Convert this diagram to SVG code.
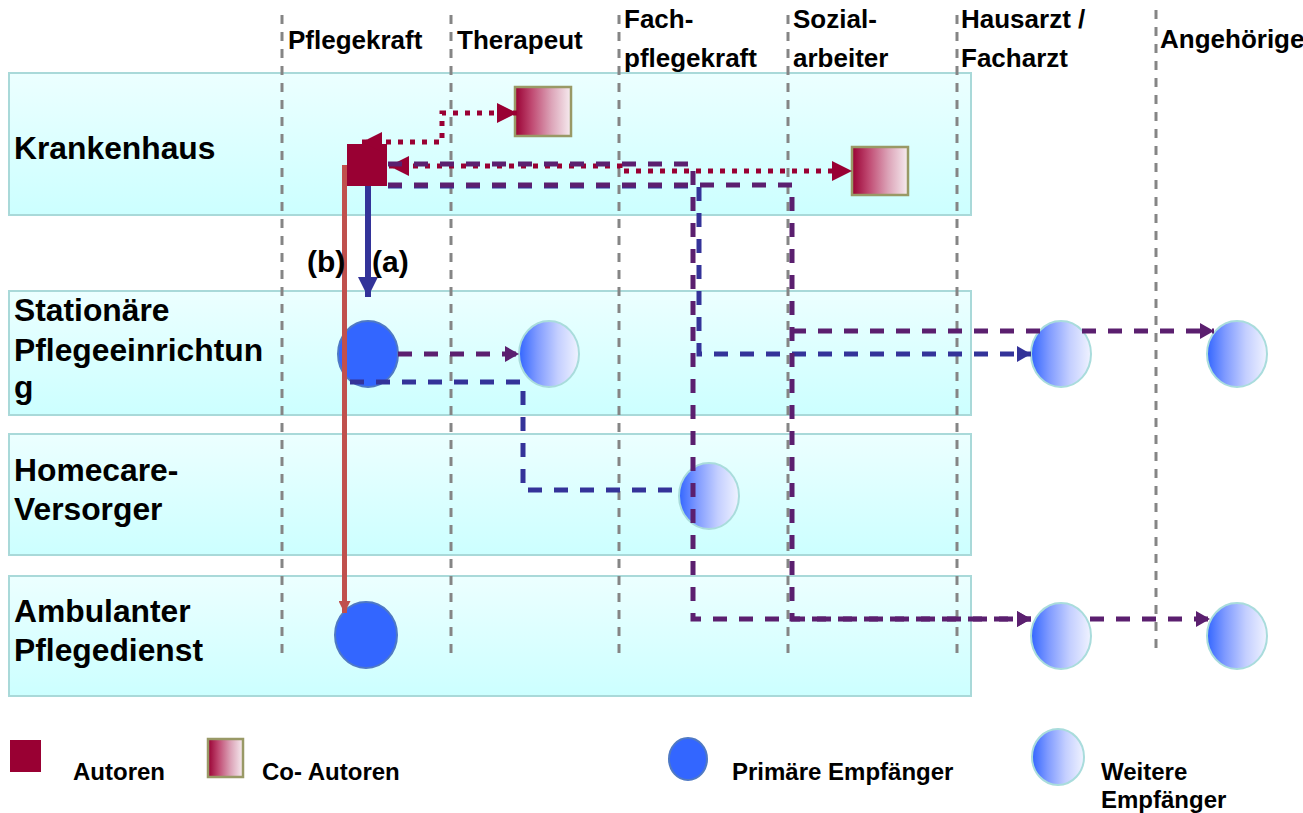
<svg xmlns="http://www.w3.org/2000/svg" width="1303" height="813" viewBox="0 0 1303 813">
<style>
text{font-family:"Liberation Sans",Arial,sans-serif;font-weight:bold;fill:#000}
.hdr{font-size:26px}
.lbl{font-size:31.8px}
.leg{font-size:24px}
.ab{font-size:30px}
.band{fill:url(#bandG);stroke:#a9d9d9;stroke-width:2}
.grid{stroke:#858585;stroke-width:3;stroke-dasharray:9 8;fill:none}
.author{fill:#990033}
.coauth{fill:url(#coG);stroke:#999966;stroke-width:2.5}
.prim{fill:#3366ff;stroke:#4f79c4;stroke-width:2}
.weit{fill:url(#weitG);stroke:#a9dcdc;stroke-width:2}
.dot{fill:none;stroke:#990033;stroke-width:5;stroke-dasharray:5 7}
.pur{fill:none;stroke:#5b1f6f;stroke-width:5;stroke-dasharray:14 12}
.blu{fill:none;stroke:#343399;stroke-width:5;stroke-dasharray:14 12}
</style>
<defs>
<linearGradient id="bandG" x1="0" y1="0" x2="0" y2="1">
<stop offset="0" stop-color="#ecffff"/><stop offset="1" stop-color="#ccffff"/>
</linearGradient>
<linearGradient id="coG" x1="0" y1="0" x2="1" y2="0">
<stop offset="0" stop-color="#990033"/><stop offset="0.3" stop-color="#c04a72"/><stop offset="0.65" stop-color="#dca4b8"/><stop offset="1" stop-color="#f6ecf0"/>
</linearGradient>
<linearGradient id="weitG" x1="0" y1="0" x2="1" y2="0">
<stop offset="0" stop-color="#3366ff"/><stop offset="0.3" stop-color="#7f9aff"/><stop offset="0.65" stop-color="#c4cfff"/><stop offset="1" stop-color="#f0f3ff"/>
</linearGradient>
<marker id="mRed" markerUnits="userSpaceOnUse" markerWidth="20" markerHeight="20" refX="20" refY="10" orient="auto-start-reverse"><path d="M0,0 L20,10 L0,20 z" fill="#990033"/></marker>
<marker id="mPur" markerUnits="userSpaceOnUse" markerWidth="14" markerHeight="16" refX="14" refY="8" orient="auto"><path d="M0,0 L14,8 L0,16 z" fill="#5b1f6f"/></marker>
<marker id="mBlu" markerUnits="userSpaceOnUse" markerWidth="14" markerHeight="16" refX="14" refY="8" orient="auto"><path d="M0,0 L14,8 L0,16 z" fill="#343399"/></marker>
<marker id="mA" markerUnits="userSpaceOnUse" markerWidth="20" markerHeight="20" refX="20" refY="10" orient="auto"><path d="M0,0 L20,10 L0,20 z" fill="#333399"/></marker>
<marker id="mB" markerUnits="userSpaceOnUse" markerWidth="12" markerHeight="12" refX="12" refY="6" orient="auto"><path d="M0,0 L12,6 L0,12 z" fill="#c0504d"/></marker>
</defs>
<rect width="1303" height="813" fill="#ffffff"/>

<g id="lanes">
<rect class="band" x="9" y="73" width="962" height="142"/>
<rect class="band" x="9" y="291" width="962" height="124"/>
<rect class="band" x="9" y="434" width="962" height="121"/>
<rect class="band" x="9" y="576" width="962" height="120"/>
</g>

<g id="grid">
<line class="grid" x1="282" y1="15" x2="282" y2="660"/>
<line class="grid" x1="451" y1="15" x2="451" y2="660"/>
<line class="grid" x1="619" y1="15" x2="619" y2="660"/>
<line class="grid" x1="788" y1="15" x2="788" y2="660"/>
<line class="grid" x1="957" y1="15" x2="957" y2="660"/>
<line class="grid" x1="1156" y1="10" x2="1156" y2="650"/>
</g>

<g id="headers">
<text class="hdr" x="288" y="49">Pflegekraft</text>
<text class="hdr" x="457" y="49">Therapeut</text>
<text class="hdr" x="624" y="28">Fach-</text>
<text class="hdr" x="624" y="67">pflegekraft</text>
<text class="hdr" x="793" y="28">Sozial-</text>
<text class="hdr" x="793" y="67">arbeiter</text>
<text class="hdr" x="961" y="28">Hausarzt /</text>
<text class="hdr" x="961" y="67">Facharzt</text>
<text class="hdr" x="1160" y="48">Angehörige</text>
</g>

<g id="lane-labels">
<text class="lbl" x="14" y="159">Krankenhaus</text>
<text class="lbl" x="14" y="321">Stationäre</text>
<text class="lbl" x="14" y="361">Pflegeeinrichtun</text>
<text class="lbl" x="14" y="398">g</text>
<text class="lbl" x="14" y="481">Homecare-</text>
<text class="lbl" x="14" y="520">Versorger</text>
<text class="lbl" x="14" y="622">Ambulanter</text>
<text class="lbl" x="14" y="661">Pflegedienst</text>
</g>

<g id="nodes">
<rect id="author-kh" class="author" x="347" y="144" width="40" height="42"/>
<rect id="coauthor-ther" class="coauth" x="515" y="87" width="56" height="49"/>
<rect id="coauthor-soz" class="coauth" x="852" y="147" width="56" height="48"/>
<ellipse id="prim-stat" class="prim" cx="368" cy="354" rx="30" ry="33"/>
<ellipse id="prim-amb" class="prim" cx="366" cy="635" rx="31" ry="33"/>
<ellipse id="weit-ther" class="weit" cx="549" cy="354" rx="30" ry="33"/>
<ellipse id="weit-fach" class="weit" cx="709" cy="496" rx="30" ry="33"/>
<ellipse id="weit-arzt-stat" class="weit" cx="1061" cy="354" rx="30" ry="33"/>
<ellipse id="weit-ang-stat" class="weit" cx="1237" cy="354" rx="30" ry="33"/>
<ellipse id="weit-arzt-amb" class="weit" cx="1061" cy="636" rx="30" ry="33"/>
<ellipse id="weit-ang-amb" class="weit" cx="1237" cy="636" rx="30" ry="33"/>
</g>

<g id="connectors">
<path class="dot" d="M362,142 H442 V113 H517" marker-start="url(#mRed)" marker-end="url(#mRed)"/>
<path class="dot" d="M389,166 H620 V171 H852" marker-start="url(#mRed)" marker-end="url(#mRed)"/>
<path class="blu" d="M388,186 H699 V354 H1031" marker-end="url(#mBlu)"/>
<path class="blu" d="M350,382 H523 V490 H680"/>
<path class="pur" d="M388,164 H693 V619 H1031" marker-end="url(#mPur)"/>
<path class="pur" d="M388,185 H792 V619 H1031" marker-end="url(#mPur)"/>
<path class="pur" d="M1090,619 H1210" marker-end="url(#mPur)"/>
<path class="pur" d="M792,331 H1040 M1082,331 H1214" marker-end="url(#mPur)"/>
<path class="pur" d="M398,354 H519" marker-end="url(#mPur)"/>
<path d="M368,186 V297" fill="none" stroke="#333399" stroke-width="6" marker-end="url(#mA)"/>
<path d="M344.5,165 V613" fill="none" stroke="#c0504d" stroke-width="5" marker-end="url(#mB)"/>
</g>

<g id="path-labels">
<text class="ab" x="307" y="272">(b)</text>
<text class="ab" x="372" y="272">(a)</text>
</g>

<g id="legend">
<rect class="author" x="10" y="740" width="31" height="32"/>
<text class="leg" x="73" y="780">Autoren</text>
<rect class="coauth" x="208" y="739" width="35" height="38"/>
<text class="leg" x="262" y="780">Co- Autoren</text>
<ellipse class="prim" cx="688" cy="759" rx="19" ry="21"/>
<text class="leg" x="732" y="780">Primäre Empfänger</text>
<ellipse class="weit" cx="1058" cy="757" rx="26" ry="28"/>
<text class="leg" x="1101" y="780">Weitere</text>
<text class="leg" x="1101" y="808">Empfänger</text>
</g>
</svg>
